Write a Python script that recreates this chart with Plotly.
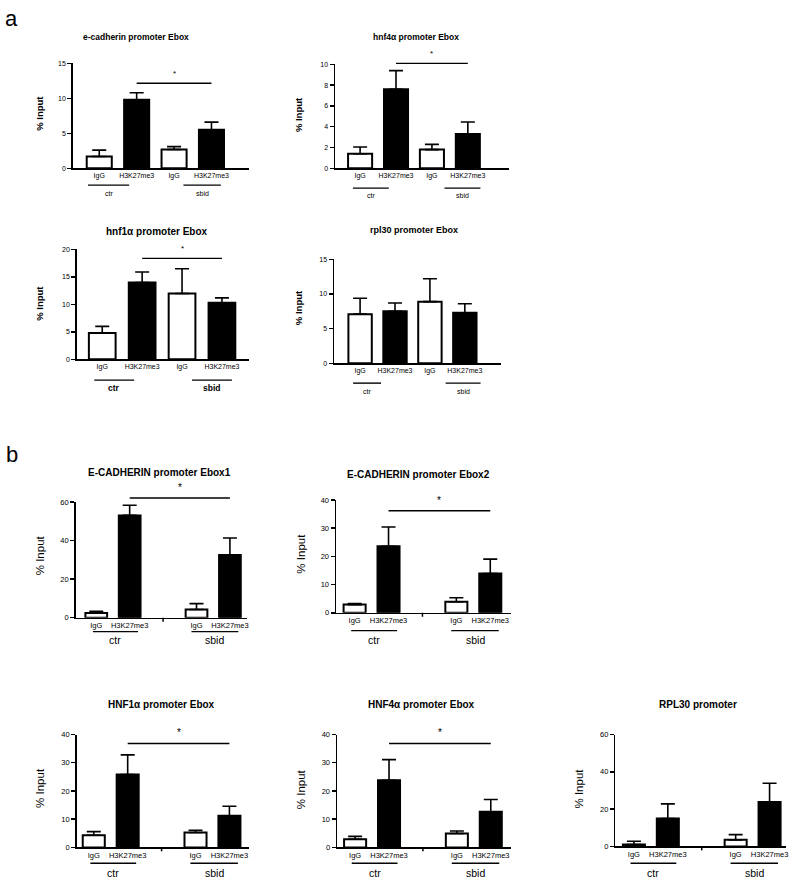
import plotly.graph_objects as go

W, H = 800, 890
FONT = "Arial, Liberation Sans, sans-serif"

# ---------------- data ----------------
conditions = ["IgG", "H3K27me3", "IgG", "H3K27me3"]
groups = ["ctr", "sbid"]
bar_colors = ["white", "black", "white", "black"]

pos_a = [0, 1, 2, 3]
pos_b = [0, 1, 3, 4]

# panel a
ecad_a_vals = [1.7, 9.8, 2.7, 5.5]
ecad_a_errs = [0.9, 1.0, 0.4, 1.1]
hnf4_a_vals = [1.4, 7.6, 1.8, 3.3]
hnf4_a_errs = [0.65, 1.8, 0.5, 1.15]
hnf1_a_vals = [4.8, 14.0, 12.0, 10.3]
hnf1_a_errs = [1.2, 1.9, 4.5, 0.9]
rpl30_a_vals = [7.1, 7.5, 8.9, 7.3]
rpl30_a_errs = [2.3, 1.2, 3.3, 1.3]

# panel b
ecad1_b_vals = [2.5, 53.0, 4.3, 32.5]
ecad1_b_errs = [0.8, 5.3, 3.0, 8.8]
ecad2_b_vals = [2.9, 23.6, 3.9, 13.9]
ecad2_b_errs = [0.4, 6.8, 1.4, 5.1]
hnf1_b_vals = [4.3, 25.8, 5.3, 11.2]
hnf1_b_errs = [1.3, 7.0, 0.8, 3.4]
hnf4_b_vals = [2.9, 23.8, 4.9, 12.6]
hnf4_b_errs = [1.0, 7.3, 0.9, 4.4]
rpl30_b_vals = [1.0, 15.0, 3.5, 23.8]
rpl30_b_errs = [1.8, 7.8, 2.8, 10.1]

# ---------------- layout config (pixels) ----------------
panels = [
    dict(title="e-cadherin promoter Ebox", vals=ecad_a_vals, errs=ecad_a_errs, pos=pos_a,
         ymax=15, dtick=5, sig=(1, 3), left=73, right=250, y0=166, ytop=60, c0=99.5, unit=37.5,
         tx=136, ty=33, tsize=8.5, ylx=40, yly=110, sigy=80, gly=183, glab=191,
         glines=[(-0.3, 0.8), (2.25, 3.25)], kind="a", gbold=False, lsize=7),
    dict(title="hnf4α promoter Ebox", vals=hnf4_a_vals, errs=hnf4_a_errs, pos=pos_a,
         ymax=10, dtick=2, sig=(1, 3), left=336, right=510, y0=166, ytop=61, c0=361, unit=36,
         tx=417, ty=33, tsize=8.5, ylx=300, yly=112, sigy=60, gly=186, glab=193,
         glines=[(-0.2, 0.8), (2.35, 3.35)], kind="a", gbold=False, lsize=7),
    dict(title="hnf1α promoter Ebox", vals=hnf1_a_vals, errs=hnf1_a_errs, pos=pos_a,
         ymax=20, dtick=5, sig=(1, 3), left=77, right=250, y0=359, ytop=248, c0=102.5, unit=40,
         tx=157, ty=230, tsize=10, ylx=40, yly=302, sigy=257, gly=380, glab=388,
         glines=[(-0.2, 0.8), (2.25, 3.25)], kind="a", gbold=True, lsize=8.5),
    dict(title="rpl30 promoter Ebox", vals=rpl30_a_vals, errs=rpl30_a_errs, pos=pos_a,
         ymax=15, dtick=5, sig=None, left=335, right=502, y0=363, ytop=258, c0=361, unit=35,
         tx=415, ty=228, tsize=9, ylx=300, yly=307, sigy=None, gly=383, glab=391,
         glines=[(-0.2, 0.6), (2.45, 3.45)], kind="a", gbold=False, lsize=7),
    dict(title="E-CADHERIN promoter Ebox1", vals=ecad1_b_vals, errs=ecad1_b_errs, pos=pos_b,
         ymax=60, dtick=20, sig=(1, 4), left=76, right=248, y0=620, ytop=503, c0=96.5, unit=33.5,
         tx=160, ty=473, tsize=10, ylx=40, yly=557, sigy=499, gly=634, glab=643,
         glines=[(-0.1, 1.25), (2.85, 4.25)], kind="b", gbold=False, lsize=10.5),
    dict(title="E-CADHERIN promoter Ebox2", vals=ecad2_b_vals, errs=ecad2_b_errs, pos=pos_b,
         ymax=40, dtick=10, sig=(1, 4), left=337, right=512, y0=615, ytop=501, c0=355.5, unit=34,
         tx=420, ty=475, tsize=10, ylx=302, yly=555, sigy=512, gly=633, glab=642,
         glines=[(-0.1, 1.25), (2.85, 4.25)], kind="b", gbold=False, lsize=10.5),
    dict(title="HNF1α promoter Ebox", vals=hnf1_b_vals, errs=hnf1_b_errs, pos=pos_b,
         ymax=40, dtick=10, sig=(1, 4), left=77, right=250, y0=852, ytop=738, c0=94, unit=34,
         tx=162, ty=708, tsize=10, ylx=40, yly=792, sigy=747, gly=868, glab=878,
         glines=[(-0.1, 1.25), (2.85, 4.25)], kind="b", gbold=False, lsize=10.5),
    dict(title="HNF4α promoter Ebox", vals=hnf4_b_vals, errs=hnf4_b_errs, pos=pos_b,
         ymax=40, dtick=10, sig=(1, 4), left=338, right=512, y0=852, ytop=738, c0=356, unit=34,
         tx=423, ty=708, tsize=10, ylx=302, yly=793, sigy=747, gly=868, glab=878,
         glines=[(-0.1, 1.25), (2.85, 4.25)], kind="b", gbold=False, lsize=10.5),
    dict(title="RPL30 promoter", vals=rpl30_b_vals, errs=rpl30_b_errs, pos=pos_b,
         ymax=60, dtick=20, sig=None, left=617, right=788, y0=851, ytop=738, c0=635.5, unit=34,
         tx=700, ty=708, tsize=10, ylx=580, yly=793, sigy=None, gly=868, glab=878,
         glines=[(-0.1, 1.25), (2.85, 4.25)], kind="b", gbold=False, lsize=10.5),
]

fig = go.Figure()
shapes = []
annotations = []
layout_axes = {}


def px_x(p, xv):
    return (p["c0"] + xv * p["unit"]) / W


def py(yp):
    return 1 - yp / H


for i, p in enumerate(panels):
    n = i + 1
    xa = "x" if n == 1 else f"x{n}"
    ya = "y" if n == 1 else f"y{n}"
    bw = 0.67 if p["kind"] == "a" else 0.65
    fig.add_trace(go.Bar(
        x=p["pos"], y=p["vals"], xaxis=xa, yaxis=ya, width=bw,
        marker=dict(color=bar_colors, line=dict(color="black", width=2)),
        error_y=dict(type="data", symmetric=False, array=p["errs"],
                     arrayminus=[0] * len(p["errs"]), color="black",
                     thickness=1.6, width=7),
        showlegend=False, hoverinfo="skip",
    ))
    xr = [(p["left"] - p["c0"]) / p["unit"], (p["right"] - p["c0"]) / p["unit"]]
    tfs = 7 if p["kind"] == "a" else 7.5
    layout_axes[f"xaxis{n}"] = dict(
        domain=[p["left"] / W, p["right"] / W], range=xr, anchor=ya,
        showline=True, linecolor="black", linewidth=1.6, ticks="",
        tickvals=p["pos"], ticktext=conditions, tickfont=dict(size=tfs, color="black", family=FONT),
        showgrid=False, zeroline=False, fixedrange=True,
    )
    layout_axes[f"yaxis{n}"] = dict(
        domain=[py(p["y0"]), py(p["ytop"])], range=[0, p["ymax"]], dtick=p["dtick"], anchor=xa,
        showline=True, linecolor="black", linewidth=1.6, ticks="outside", ticklen=4,
        tickwidth=1.5, tickcolor="black", tickfont=dict(size=tfs, color="black", family=FONT),
        showgrid=False, zeroline=False, fixedrange=True,
    )
    # title
    annotations.append(dict(text=f"<b>{p['title']}</b>", x=p["tx"] / W, y=py(p["ty"]),
                            xref="paper", yref="paper", showarrow=False,
                            xanchor="center", yanchor="middle",
                            font=dict(size=p["tsize"], color="black", family=FONT)))
    # y label
    yl = "<b>% Input</b>" if p["kind"] == "a" else "% Input"
    ys = 9.5 if p["kind"] == "a" else 11.5
    annotations.append(dict(text=yl, x=p["ylx"] / W, y=py(p["yly"]), xref="paper", yref="paper",
                            showarrow=False, textangle=-90, xanchor="center", yanchor="middle",
                            font=dict(size=ys, color="black", family=FONT)))
    # group lines and labels
    for (g0, g1), gname in zip(p["glines"], groups):
        shapes.append(dict(type="line", xref="paper", yref="paper",
                           x0=px_x(p, g0), x1=px_x(p, g1), y0=py(p["gly"]), y1=py(p["gly"]),
                           line=dict(color="black", width=1.4)))
        gt = f"<b>{gname}</b>" if p["gbold"] else gname
        annotations.append(dict(text=gt, x=px_x(p, (g0 + g1) / 2), y=py(p["glab"]),
                                xref="paper", yref="paper", showarrow=False,
                                xanchor="center", yanchor="middle",
                                font=dict(size=p["lsize"], color="black", family=FONT)))
    # significance
    if p["sig"] is not None:
        s0, s1 = p["sig"]
        shapes.append(dict(type="line", xref="paper", yref="paper",
                           x0=px_x(p, s0), x1=px_x(p, s1), y0=py(p["sigy"]), y1=py(p["sigy"]),
                           line=dict(color="black", width=1.4)))
        ss = 8 if p["kind"] == "a" else 10
        annotations.append(dict(text="*", x=px_x(p, (s0 + s1) / 2), y=py(p["sigy"] - 3),
                                xref="paper", yref="paper", showarrow=False,
                                xanchor="center", yanchor="bottom",
                                font=dict(size=ss, color="black", family=FONT)))
    # middle tick for panel b
    if p["kind"] == "b":
        shapes.append(dict(type="line", xref="paper", yref="paper",
                           x0=px_x(p, 2), x1=px_x(p, 2), y0=py(p["y0"]), y1=py(p["y0"] + 4),
                           line=dict(color="black", width=1.5)))

# panel letters
annotations.append(dict(text="a", x=12 / W, y=py(15), xref="paper", yref="paper", showarrow=False,
                        xanchor="center", yanchor="middle", font=dict(size=22, color="black", family=FONT)))
annotations.append(dict(text="b", x=12 / W, y=py(455), xref="paper", yref="paper", showarrow=False,
                        xanchor="center", yanchor="middle", font=dict(size=22, color="black", family=FONT)))

fig.update_layout(
    width=W, height=H, margin=dict(l=0, r=0, t=0, b=0),
    paper_bgcolor="white", plot_bgcolor="white",
    shapes=shapes, annotations=annotations, bargap=0,
    font=dict(family=FONT, color="black"),
    **layout_axes,
)

fig.write_html("out.html", config={"displayModeBar": False, "staticPlot": True},
               post_script="document.body.style.margin='0';document.body.style.overflow='hidden';")
